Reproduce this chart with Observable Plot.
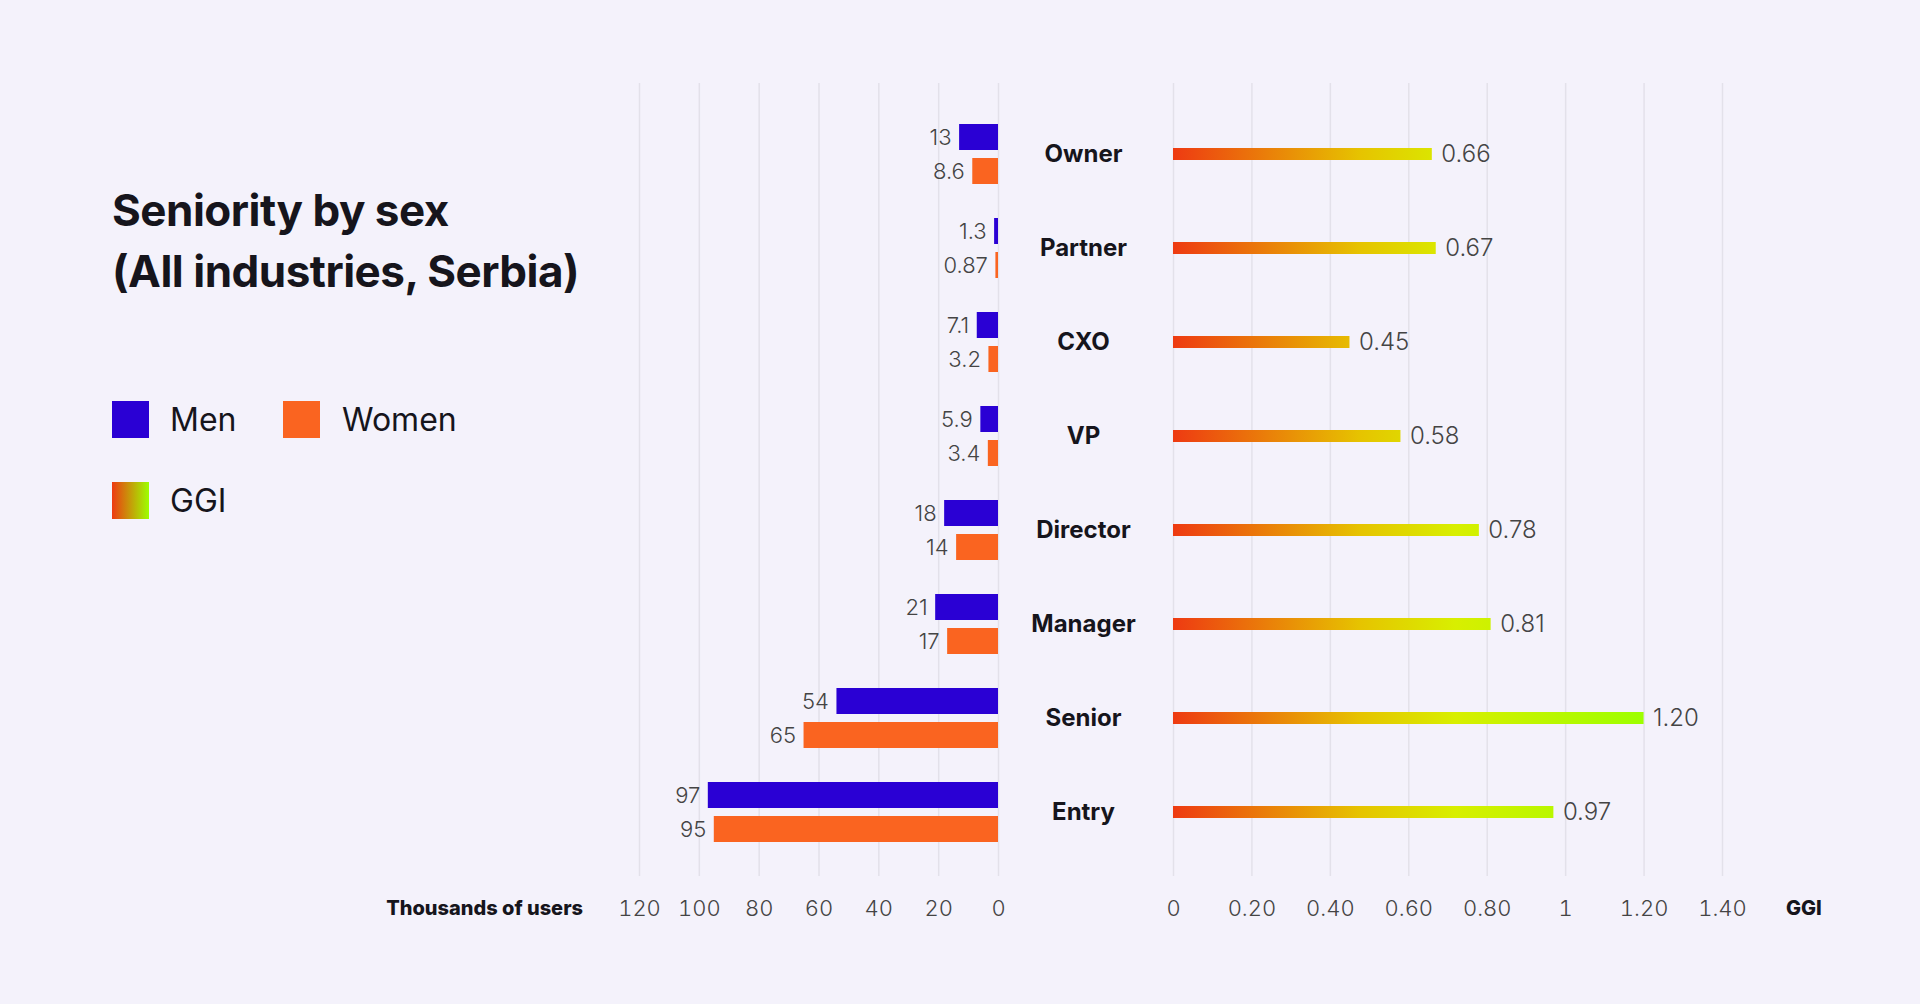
<!DOCTYPE html>
<html><head><meta charset="utf-8">
<script src="https://cdn.jsdelivr.net/npm/d3@7"></script>
<script src="https://cdn.jsdelivr.net/npm/@observablehq/plot@0.6"></script>
<style>
body{margin:0;background:#f4f2fb;font-family:Inter,"Noto Sans",sans-serif;width:1920px;height:1004px;overflow:hidden;position:relative}
.abs{position:absolute}
h1{position:absolute;left:112px;top:180px;margin:0;font-size:44px;line-height:61px;font-weight:700;color:#16151c;letter-spacing:-0.5px}
.sw{position:absolute;width:37px;height:37px}
.lt{position:absolute;font-size:32px;color:#16151c;font-weight:400}
.ax{position:absolute;font-size:20px;font-weight:800;color:#16151c;top:896px}
</style></head><body>
<h1>Seniority by sex<br>(All industries, Serbia)</h1>
<div class="sw" style="left:112px;top:401px;background:#2a00d4"></div><div class="lt" style="left:170px;top:400px">Men</div>
<div class="sw" style="left:283px;top:401px;background:#fa6420"></div><div class="lt" style="left:342px;top:400px">Women</div>
<div class="sw" style="left:112px;top:482px;background:linear-gradient(90deg,#ee3a12,#9dff00)"></div><div class="lt" style="left:170px;top:481px">GGI</div>
<div class="ax" style="right:1337px">Thousands of users</div>
<div class="ax" style="left:1786px">GGI</div>
<div id="left" class="abs" style="left:560px;top:60px"></div>
<div id="right" class="abs" style="left:1020px;top:60px"></div>
<script>
const categories=["Owner","Partner","CXO","VP","Director","Manager","Senior","Entry"];
const men=[13,1.3,7.1,5.9,18,21,54,97];
const women=[8.6,0.87,3.2,3.4,14,17,65,95];
const menLabels=["13","1.3","7.1","5.9","18","21","54","97"];
const womenLabels=["8.6","0.87","3.2","3.4","14","17","65","95"];
const ggi=[0.66,0.67,0.45,0.58,0.78,0.81,1.20,0.97];
const ggiLabels=["0.66","0.67","0.45","0.58","0.78","0.81","1.20","0.97"];
const leftTicks=[0,20,40,60,80,100,120];
const rightTicks=[0,0.2,0.4,0.6,0.8,1,1.2,1.4];
const rightTickLabels=["0","0.20","0.40","0.60","0.80","1","1.20","1.40"];

const M=categories.map((c,i)=>({c,v:men[i],l:menLabels[i]}));
const W=categories.map((c,i)=>({c,v:women[i],l:womenLabels[i]}));
const G=categories.map((c,i)=>({c,v:ggi[i],l:ggiLabels[i]}));
const H=880, common={height:H,marginTop:23,marginBottom:64,style:{background:"transparent",fontFamily:"Inter, sans-serif",fontSize:"22px",color:"#555"}};
const yS={domain:categories,type:"band",padding:0,insetTop:22,insetBottom:16,label:null,axis:null};
const txt={fontSize:22,fontWeight:300,fill:"#444"};

document.getElementById("left").append(Plot.plot({...common,width:460,marginLeft:79,marginRight:22,
 x:{domain:[120,0],label:null,axis:null},y:yS,
 marks:[
  Plot.ruleX(leftTicks,{stroke:"#e3e1ea",strokeWidth:1.5}),
  Plot.axisX({ticks:leftTicks,tickSize:0,tickPadding:24,fontSize:22,fontWeight:300,fill:"#444",anchor:"bottom",label:null}),
  Plot.barX(M,{x:"v",y:"c",fill:"#2a00d4",insetTop:17,insetBottom:51}),
  Plot.barX(W,{x:"v",y:"c",fill:"#fa6420",insetTop:51,insetBottom:17}),
  Plot.text(M,{x:"v",y:"c",text:"l",dy:-17,dx:-8,textAnchor:"end",...txt}),
  Plot.text(W,{x:"v",y:"c",text:"l",dy:17,dx:-8,textAnchor:"end",...txt})
 ]}));

document.getElementById("right").append(Plot.plot({...common,width:800,marginLeft:153,marginRight:98,
 x:{domain:[0,1.4],label:null,axis:null},y:yS,
 marks:[
  (index,scales,values,dims)=>{
    const s=d3.create("svg:defs");
    const g=s.append("linearGradient").attr("id","ggiGrad").attr("gradientUnits","userSpaceOnUse")
      .attr("x1",scales.x(0)).attr("x2",scales.x(1.2)).attr("y1",0).attr("y2",0);
    [[0,"#ee3a12"],[0.4,"#e6c400"],[0.6,"#d8ef00"],[1,"#9dff00"]].forEach(([o,c])=>g.append("stop").attr("offset",o).attr("stop-color",c));
    return s.node();
  },
  Plot.ruleX(rightTicks,{stroke:"#e3e1ea",strokeWidth:1.5}),
  Plot.axisX({ticks:rightTicks,tickFormat:(d,i)=>rightTickLabels[i],tickSize:0,tickPadding:24,fontSize:22,fontWeight:300,fill:"#444",label:null}),
  Plot.axisY({tickSize:0,tickPadding:90,textAnchor:"middle",fontSize:24,fontWeight:700,fill:"#16151c",label:null}),
  Plot.barX(G,{x:"v",y:"c",fill:"url(#ggiGrad)",insetTop:41,insetBottom:41}),
  Plot.text(G,{x:"v",y:"c",text:"l",dx:9,textAnchor:"start",...txt,fontSize:24})
 ]}));
</script></body></html>
